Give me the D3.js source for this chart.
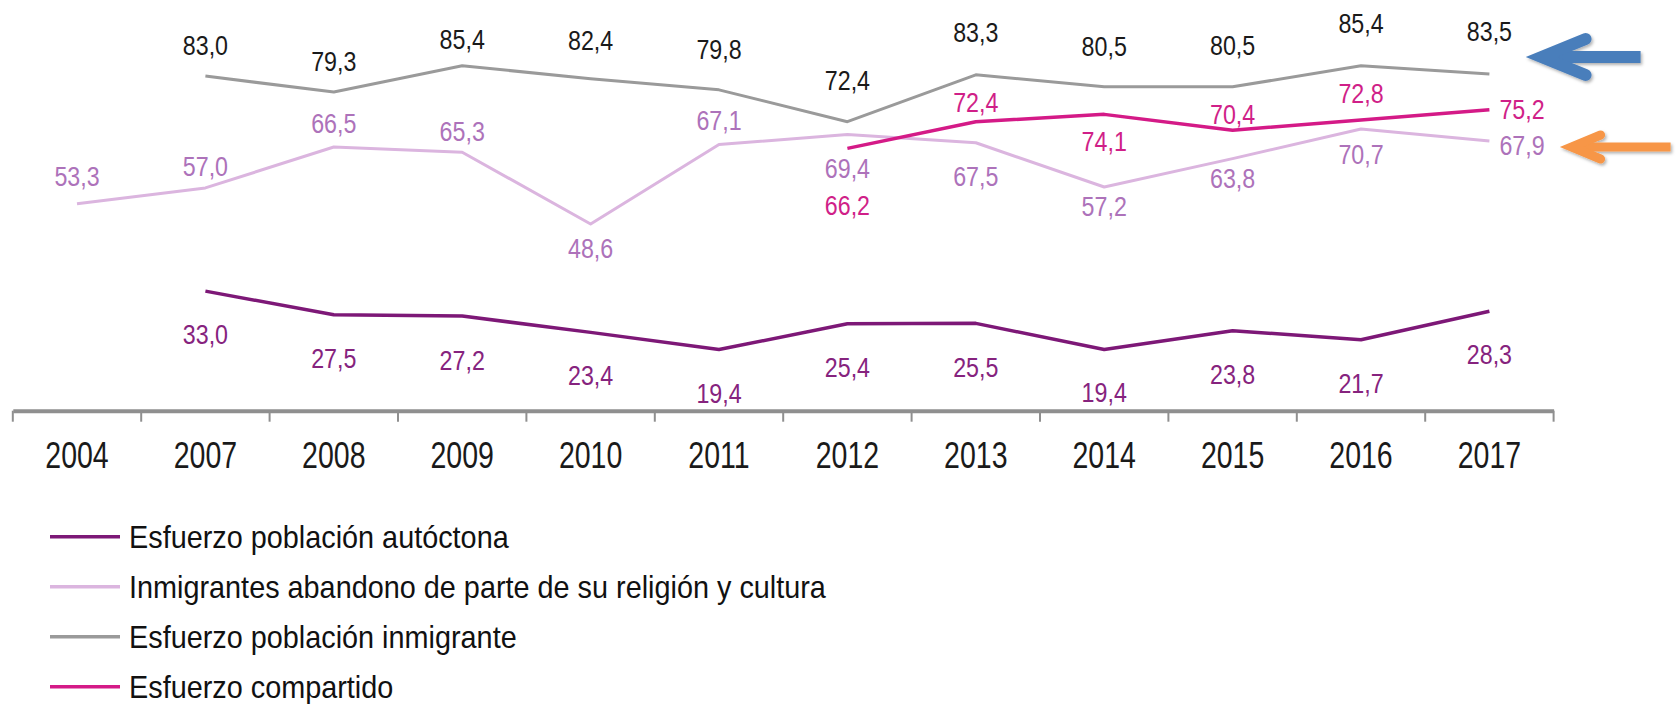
<!DOCTYPE html>
<html>
<head>
<meta charset="utf-8">
<script src="https://cdnjs.cloudflare.com/ajax/libs/d3/7.8.5/d3.min.js"></script>
<style>
    body { margin: 0; background: #fff; }
    svg text { font-family: "Liberation Sans", Arial, sans-serif; }
</style>
</head>
<body>
<div id="chart"></div>
<script>
const years = ['2004', '2007', '2008', '2009', '2010', '2011', '2012', '2013', '2014', '2015', '2016', '2017'];

const autoctona = [null, 33.0, 27.5, 27.2, 23.4, 19.4, 25.4, 25.5, 19.4, 23.8, 21.7, 28.3];
const abandono = [53.3, 57.0, 66.5, 65.3, 48.6, 67.1, 69.4, 67.5, 57.2, 63.8, 70.7, 67.9];
const inmigrante = [null, 83.0, 79.3, 85.4, 82.4, 79.8, 72.4, 83.3, 80.5, 80.5, 85.4, 83.5];
const compartido = [null, null, null, null, null, null, 66.2, 72.4, 74.1, 70.4, 72.8, 75.2];

// label offsets (px from the point), as placed in the original
const autoctonaDy = [0, 53, 53, 54, 53, 53, 53, 54, 52, 53, 53, 53];
const abandonoDy = [-18, -12, -14, -11, 34, -14, 43, 43, 29, 29, 35, 14];
const inmigranteDy = [0, -21, -21, -17, -29, -31, -32, -33, -31, -32, -33, -33];
const compartidoDy = [0, 0, 0, 0, 0, 0, 67, -10, 37, -6, -17, 9];

const legendLabels = [
    'Esfuerzo población autóctona',
    'Inmigrantes abandono de parte de su religión y cultura',
    'Esfuerzo población inmigrante',
    'Esfuerzo compartido'
];

const W = 1677, H = 704;
const axisY = 410.7;

const series = [
    { name: legendLabels[0], values: autoctona, dy: autoctonaDy, line: '#7d1877', text: '#86237e', width: 3.5, right: false },
    { name: legendLabels[1], values: abandono, dy: abandonoDy, line: '#dbb5df', text: '#ad72ba', width: 3, right: true },
    { name: legendLabels[2], values: inmigrante, dy: inmigranteDy, line: '#9a9a9a', text: '#1a1a1a', width: 3, right: false },
    { name: legendLabels[3], values: compartido, dy: compartidoDy, line: '#d41a87', text: '#d01f88', width: 3.5, right: true }
];

const x = d3.scaleBand()
    .domain(years)
    .range([12.8, 1553.6]);

const y = d3.scaleLinear()
    .domain([0, 100])
    .range([433, 3]);

const cx = yr => x(yr) + x.bandwidth() / 2;

const svg = d3.select('#chart')
    .append('svg')
    .attr('width', W)
    .attr('height', H);

// x axis: thick base line, ticks at band edges, year labels at centres
const xAxis = svg.append('g')
    .attr('transform', `translate(0, ${axisY})`)
    .call(d3.axisBottom(x).tickSize(0).tickPadding(31));
xAxis.select('.domain')
    .attr('stroke', '#8f8f8f')
    .attr('stroke-width', 4);
xAxis.selectAll('.tick text')
    .attr('fill', '#1a1a1a')
    .style('font-size', '37px')
    .attr('dy', '0.72em')
    .attr('transform', 'scale(0.77,1)');

const edges = years.map(d => x(d)).concat([x.range()[1]]);
xAxis.selectAll('.edge')
    .data(edges)
    .enter()
    .append('line')
    .attr('class', 'edge')
    .attr('x1', d => d)
    .attr('x2', d => d)
    .attr('y1', 0)
    .attr('y2', 11)
    .attr('stroke', '#8f8f8f')
    .attr('stroke-width', 2);

const line = d3.line()
    .defined(d => d.v !== null)
    .x(d => cx(d.year))
    .y(d => y(d.v));

const points = s => years.map((yr, i) => ({ year: yr, v: s.values[i], dy: s.dy[i], last: i === years.length - 1 }));

// draw order: lila, grey, dark purple, pink on top
[1, 2, 0, 3].forEach(k => {
    const s = series[k];
    svg.append('path')
        .datum(points(s))
        .attr('fill', 'none')
        .attr('stroke', s.line)
        .attr('stroke-width', s.width)
        .attr('stroke-linejoin', 'round')
        .attr('d', line);
});

series.forEach(s => {
    const pts = points(s).filter(d => d.v !== null);
    svg.selectAll(null)
        .data(pts)
        .enter()
        .append('text')
        .attr('transform', d => {
            const tx = (s.right && d.last) ? cx(d.year) + 10 : cx(d.year);
            return `translate(${tx}, ${y(d.v) + d.dy}) scale(0.83,1)`;
        })
        .attr('text-anchor', d => (s.right && d.last) ? 'start' : 'middle')
        .attr('fill', s.text)
        .style('font-size', '28px')
        .text(d => d.v.toFixed(1).replace('.', ','));
});

// legend
const legend = svg.selectAll('.legendItem')
    .data(series)
    .enter()
    .append('g')
    .attr('class', 'legendItem')
    .attr('transform', (_, i) => `translate(50, ${536.7 + i * 50})`);
legend.append('line')
    .attr('x1', 0)
    .attr('x2', 70)
    .attr('stroke', d => d.line)
    .attr('stroke-width', 3.5);
legend.append('text')
    .attr('transform', 'translate(79, 11) scale(0.93,1)')
    .attr('fill', '#111')
    .style('font-size', '31px')
    .text(d => d.name);

// annotation arrows on the right
const defs = svg.append('defs');
const shadow = defs.append('filter').attr('id', 'shadow')
    .attr('x', '-20%').attr('y', '-40%').attr('width', '140%').attr('height', '180%');
shadow.append('feDropShadow')
    .attr('dx', 1.5).attr('dy', 2).attr('stdDeviation', 1.5)
    .attr('flood-color', '#000').attr('flood-opacity', 0.3);

const arrow = (tipX, tipY, len, head, spread, color, w) => {
    const g = svg.append('g').attr('filter', 'url(#shadow)');
    g.append('path')
        .attr('d', `M${tipX + len},${tipY} L${tipX + 4},${tipY}`)
        .attr('stroke', color)
        .attr('stroke-width', w);
    g.append('path')
        .attr('d', `M${tipX + head},${tipY - spread} L${tipX},${tipY} L${tipX + head},${tipY + spread}`)
        .attr('fill', 'none')
        .attr('stroke', color)
        .attr('stroke-width', w)
        .attr('stroke-linecap', 'round')
        .attr('stroke-linejoin', 'miter');
};
const axisEnd = x.range()[1];
arrow(axisEnd - 12, y(inmigrante[11]) - 17, 99, 44, 18, '#4a7ebb', 12);
arrow(axisEnd + 18, y(abandono[11]) + 6, 99, 29, 12, '#f79646', 9);
</script>
</body>
</html>
